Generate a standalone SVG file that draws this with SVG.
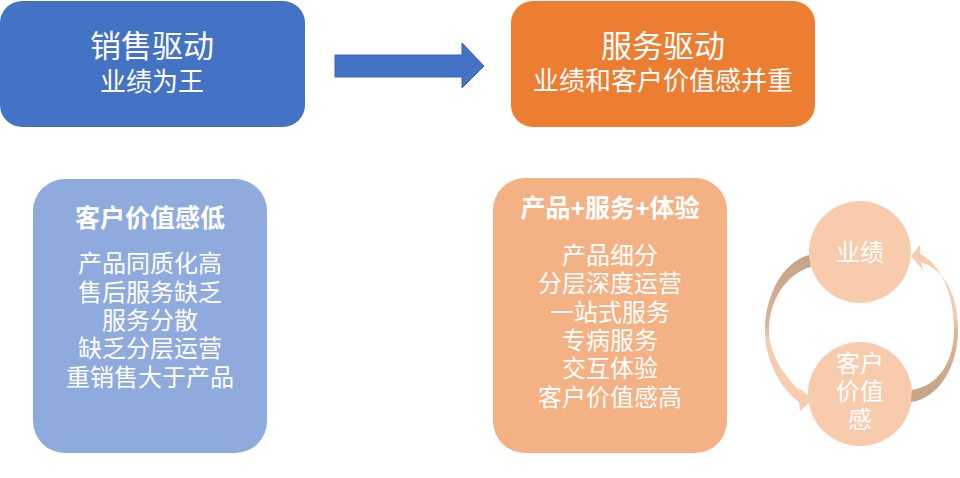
<svg xmlns="http://www.w3.org/2000/svg" width="960" height="478" viewBox="0 0 960 478">
<defs>
<style>
text{font-family:"Liberation Sans","Noto Sans CJK SC",sans-serif;fill:#ffffff;text-anchor:middle;dominant-baseline:central}
.t1{font-size:31px}
.t2{font-size:26px}
.hd{font-size:25px;font-weight:bold}
.ln{font-size:24px}
.cc{font-size:24px}
</style>
<linearGradient id="gL" x1="0" y1="0" x2="0" y2="1">
<stop offset="0" stop-color="#C4A283"/>
<stop offset="0.45" stop-color="#DDB699"/>
<stop offset="0.55" stop-color="#F6CCAE"/>
<stop offset="1" stop-color="#F8CBAD"/>
</linearGradient>
<linearGradient id="gR" x1="0" y1="1" x2="0" y2="0">
<stop offset="0" stop-color="#C4A283"/>
<stop offset="0.45" stop-color="#DDB699"/>
<stop offset="0.55" stop-color="#F6CCAE"/>
<stop offset="1" stop-color="#F8CBAD"/>
</linearGradient>
</defs>
<rect width="960" height="478" fill="#ffffff"/>

<g id="sales-driven">
<rect x="0" y="1" width="305" height="126" rx="22" fill="#4472C4"/>
<text class="t1" x="152" y="46">销售驱动</text>
<text class="t2" x="152" y="82">业绩为王</text>
</g>

<g id="service-driven">
<rect x="511" y="1" width="304" height="126" rx="22" fill="#ED7D31"/>
<text class="t1" x="663" y="46">服务驱动</text>
<text class="t2" x="663" y="81">业绩和客户价值感并重</text>
</g>

<g id="low-value">
<rect x="33" y="179" width="234" height="274" rx="32" fill="#8FAADC"/>
<text class="hd" x="150" y="218">客户价值感低</text>
<text class="ln" x="150" y="263">产品同质化高</text>
<text class="ln" x="150" y="292">售后服务缺乏</text>
<text class="ln" x="150" y="320">服务分散</text>
<text class="ln" x="150" y="348">缺乏分层运营</text>
<text class="ln" x="150" y="377">重销售大于产品</text>
</g>

<g id="product-service">
<rect x="493" y="178" width="234" height="275" rx="32" fill="#F4B183"/>
<text class="hd" x="610" y="208">产品+服务+体验</text>
<text class="ln" x="610" y="255">产品细分</text>
<text class="ln" x="610" y="283">分层深度运营</text>
<text class="ln" x="610" y="312">一站式服务</text>
<text class="ln" x="610" y="340">专病服务</text>
<text class="ln" x="610" y="368">交互体验</text>
<text class="ln" x="610" y="397">客户价值感高</text>
</g>

<g id="performance">
<circle cx="860" cy="252" r="51" fill="#F8CBAD"/>
<text class="cc" x="860" y="252">业绩</text>
</g>

<g id="customer-value">
<circle cx="860" cy="394" r="52" fill="#F8CBAD"/>
<text class="cc" x="860" y="363">客户</text>
<text class="cc" x="860" y="391">价值</text>
<text class="cc" x="860" y="419">感</text>
</g>

<g id="connectors">
<path d="M335,55 L462,55 L462,43 L484,66 L462,88 L462,77 L335,77 Z" fill="#4472C4" stroke="#3A64B0" stroke-width="1"/>
<path d="M809,255 C783,262 765,295 765,330 C765,360 780,388 799,402 L800,411 L813,399 L796,386 L802,394 C784,375 769,355 769,330 C769,300 787,273 811,267 Z" fill="url(#gL)"/>
<path d="M911,402 C940,398 958,365 958,330 C958,295 945,270 921,262 L923,270 L911,256 L920,245 L920,254 C942,265 954,295 954,330 C954,362 938,386 912,390 Z" fill="url(#gR)"/>
</g>
</svg>
